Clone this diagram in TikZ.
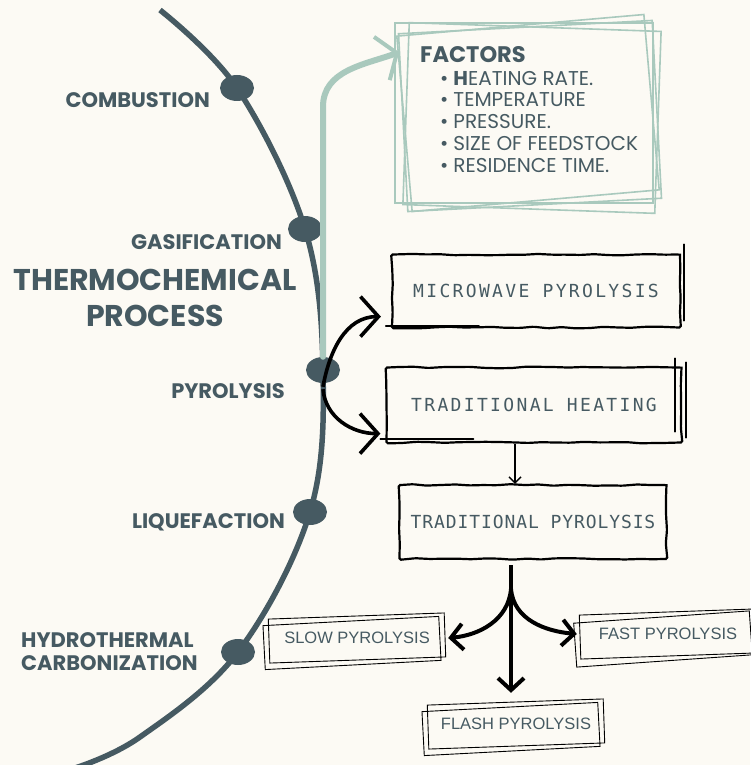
\documentclass[tikz,border=0pt]{standalone}
\usepackage{fontspec}
\setmainfont{Poppins}
\newfontfamily\boxmono[LetterSpace=13]{DejaVu Sans Mono}
\newfontfamily\tagsans{Liberation Sans}
\usetikzlibrary{arrows.meta,positioning,shapes.geometric,decorations.pathmorphing}
\definecolor{paper}{HTML}{FCFAF4}
\definecolor{slate}{HTML}{465A62}
\definecolor{sage}{HTML}{A9C9BD}
\begin{document}
\begin{tikzpicture}[x=1pt, y=-1pt, >=Stealth,
  dot/.style={ellipse, fill=slate, minimum width=34pt, minimum height=26pt, inner sep=0pt},
  stage/.style={text=slate, font=\fontsize{21}{23}\selectfont\bfseries, align=right, inner sep=0pt},
  sketch/.style={draw, line width=2.2pt, text=slate, font=\boxmono\fontsize{18}{18}\selectfont,
    decorate, decoration={random steps, segment length=14pt, amplitude=0.8pt}, rounded corners=1.5pt},
  sketchline/.style={line width=1.8pt, line cap=round},
  tag/.style={text=slate, font=\tagsans\fontsize{16.5}{16.5}\selectfont, minimum width=178pt, minimum height=46pt, inner sep=0pt},
  tagframe/.style={draw, line width=0.9pt, minimum width=176pt, minimum height=44pt, inner sep=0pt},
  frame/.style={draw=sage, line width=1.6pt, inner sep=0pt},
  fat/.style={line width=4pt, -{Straight Barb[length=12pt, width=26pt, line width=4pt]}},
  curvy/.style={line width=3.6pt, -{Straight Barb[length=18pt, width=40pt, line width=3.6pt]}}]
  \pgfmathsetseed{7}
  \fill[paper] (0,0) rectangle (750,765);
  \useasboundingbox (0,0) rectangle (750,765);

  % the thermochemical arc
  \draw[slate, line width=5.5pt] plot[smooth, tension=0.6] coordinates
    {(160,10) (237,88) (305,229) (323,370) (310,512) (238,652) (140,737) (75,768)};
  \node[dot] (comb) at (237,88) {};
  \node[dot] (gas) at (305,229) {};
  \node[dot] (pyro) at (323,370) {};
  \node[dot] (liq) at (310,512) {};
  \node[dot] (htc) at (238,652) {};

  \node[stage, anchor=east] (combl) at (210,100) {COMBUSTION};
  \node[stage, anchor=east] (gasl) at (282,242) {GASIFICATION};
  \node[stage, font=\fontsize{30}{36}\selectfont\bfseries, align=center] (title) at (155,298) {THERMOCHEMICAL\\PROCESS};
  \node[stage, anchor=east] (pyrol) at (285,391) {PYROLYSIS};
  \node[stage, anchor=east] (liql) at (285,522) {LIQUEFACTION};
  \node[stage, anchor=west, align=left] (htcl) at (21,652) {HYDROTHERMAL\\CARBONIZATION};

  % factors
  \node[frame, minimum width=258pt, minimum height=180pt] (factbox) at (524,113) {};
  \node[frame, rotate=3, minimum width=254pt, minimum height=178pt] at (530,116) {};
  \node[frame, rotate=-2, minimum width=252pt, minimum height=182pt] at (532,118) {};
  \node[frame, rotate=5, minimum width=248pt, minimum height=176pt] at (528,113) {};
  \node[anchor=north west, align=left, text=slate, inner sep=0pt,
    font=\fontsize{20}{21.8}\selectfont] (factors) at (420,46)
    {{\fontsize{22.5}{24}\selectfont\bfseries FACTORS}\\[1pt]
     \hspace*{20pt}\textbullet\hspace{5pt}\textbf{H}EATING RATE.\\
     \hspace*{20pt}\textbullet\hspace{5pt}TEMPERATURE\\
     \hspace*{20pt}\textbullet\hspace{5pt}PRESSURE.\\
     \hspace*{20pt}\textbullet\hspace{5pt}SIZE OF FEEDSTOCK\\
     \hspace*{20pt}\textbullet\hspace{5pt}RESIDENCE TIME.};
  \draw[sage, line width=6pt, line cap=round,
    -{Straight Barb[length=16pt, width=46pt, line width=4pt]}]
    (pyro.north) -- ++(0,-250) to[out=90, in=200] ([shift={(5,30)}]factbox.north west);

  % pyrolysis routes
  \node[sketch, minimum width=288pt, minimum height=73pt] (micro) at (536,291) {MICROWAVE PYROLYSIS};
  \node[sketch, minimum width=295pt, minimum height=75pt] (heat) at (534,405) {TRADITIONAL HEATING};
  \node[sketch, minimum width=267pt, minimum height=74pt,
    font=\boxmono\addfontfeature{LetterSpace=5}\fontsize{18}{18}\selectfont] (tpyro) at (533,522) {TRADITIONAL PYROLYSIS};
  \draw[sketchline] ([shift={(3,-9)}]micro.north east) -- ([shift={(3,-8)}]micro.south east);
  \draw[sketchline] ([shift={(-5,-3)}]micro.south west) -- ([shift={(88,-3)}]micro.south west);
  \draw[sketchline] ([shift={(-8,-8)}]heat.north east) -- ([shift={(-8,-12)}]heat.south east);
  \draw[sketchline] ([shift={(3,-4)}]heat.north east) -- ([shift={(3,-6)}]heat.south east);
  \draw[sketchline] ([shift={(-5,-5)}]heat.south west) -- ([shift={(88,-5)}]heat.south west);

  \draw[curvy] ([yshift=-30pt]pyro.north) to[out=80, in=180] ([shift={(-10,-12)}]micro.south west);
  \draw[curvy] ([yshift=-6pt]pyro.south) to[out=-85, in=180] ([shift={(-5,-10)}]heat.south west);
  \draw[line width=1.6pt, -{Straight Barb[length=6pt, width=12pt, line width=1.4pt]}]
    ([xshift=-19pt]heat.south) -- ([xshift=-19pt]heat.south |- tpyro.north);

  % pyrolysis types
  \node[tag] (slow) at (357,638) {SLOW PYROLYSIS};
  \node[tag] (fast) at (668,634) {FAST PYROLYSIS};
  \node[tag] (flash) at (516,724) {FLASH PYROLYSIS};
  \foreach \n/\a/\b in {slow/2/3, fast/2/4, flash/2/3} {
    \node[tagframe, rotate=\a] at (\n.center) {};
    \node[tagframe, rotate=\b] at ([shift={(-5,5)}]\n.center) {};
  }
  \coordinate (fork) at (511,565);
  \draw[fat] (fork) -- ([yshift=8pt]fork |- flash.north);
  \draw[fat] ([yshift=-24pt]fork) to[out=-95, in=5] ([xshift=2pt]slow.east);
  \draw[fat] ([yshift=-24pt]fork) to[out=-85, in=175] ([xshift=-2pt]fast.west);
\end{tikzpicture}
\end{document}
